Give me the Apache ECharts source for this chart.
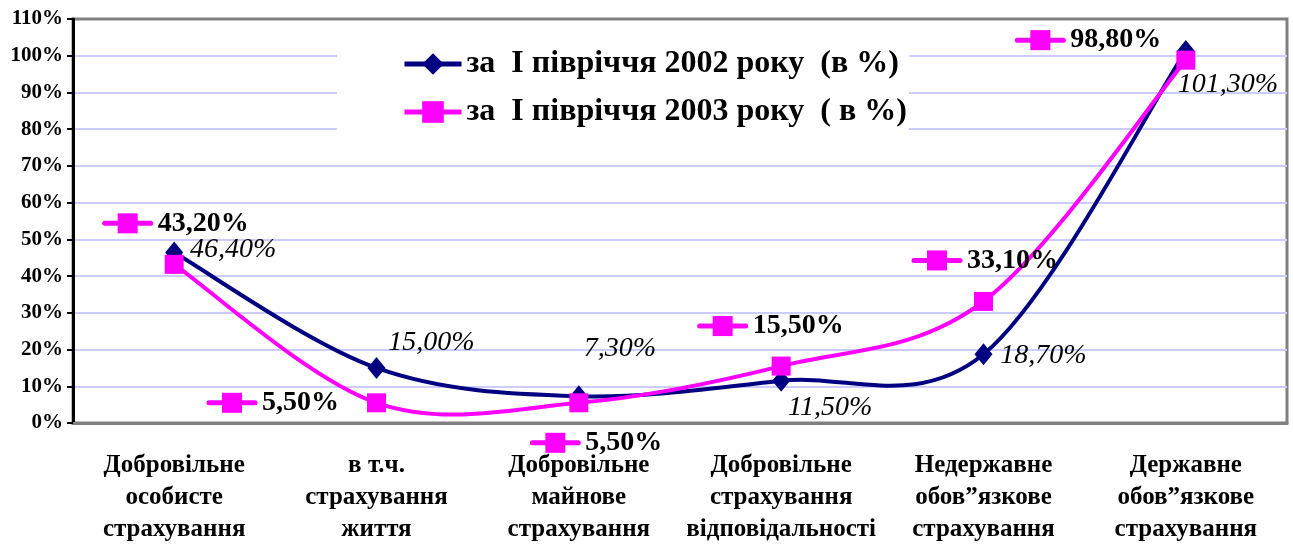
<!DOCTYPE html>
<html>
<head>
<meta charset="utf-8">
<script src="https://cdn.jsdelivr.net/npm/echarts@6/dist/echarts.min.js"></script>
<style>
html,body{margin:0;padding:0;background:#fff;}
#chart{width:1293px;height:546px;}
</style>
</head>
<body>
<div id="chart"></div>
<script>
const categories = [
  'Добровільне\nособисте\nстрахування',
  'в т.ч.\nстрахування\nжиття',
  'Добровільне\nмайнове\nстрахування',
  'Добровільне\nстрахування\nвідповідальності',
  'Недержавне\nобов”язкове\nстрахування',
  'Державне\nобов”язкове\nстрахування'
];
const seriesNames = ['за  І півріччя 2002 року  (в %)', 'за  І півріччя 2003 року  ( в %)'];
const values2002 = [46.4, 15.0, 7.3, 11.5, 18.7, 101.3];
const values2003 = [43.2, 5.5, 5.5, 15.5, 33.1, 98.8];
const yTicks = {min: 0, max: 110, interval: 10};

// label offsets (layout, px)
const offsets2002 = [[59,-3],[55,-25],[41,-48],[49,27],[60,1],[42,34]];
const offsets2003 = [[1,-41],[-104,0],[17,40],[-11,-40],[1,-41],[-98,-20]];

const NAVY = '#000080', MAG = '#FF00FF';
const FONT = '"Liberation Serif", "Times New Roman", serif';
const keySvg = 'data:image/svg+xml;utf8,' + encodeURIComponent(
  '<svg xmlns="http://www.w3.org/2000/svg" width="52" height="22">' +
  '<line x1="3" y1="11" x2="49" y2="11" stroke="#FF00FF" stroke-width="5" stroke-linecap="round"/>' +
  '<rect x="16" y="1" width="20" height="20" fill="#FF00FF"/></svg>');

function fmt(v){ return v.toFixed(2).replace('.', ',') + '%'; }

const data2002 = values2002.map((v,i)=>({
  value: v,
  label: {show: true, position: 'inside', offset: offsets2002[i],
    formatter: p => fmt(p.value), color: '#000', fontFamily: FONT,
    fontStyle: 'italic', fontSize: 28}
}));
const data2003 = values2003.map((v,i)=>({
  value: v,
  label: {show: true, position: 'inside', offset: offsets2003[i],
    formatter: p => '{k|}{t|' + fmt(p.value) + '}',
    rich: {
      k: {width: 52, height: 22, backgroundColor: {image: keySvg}},
      t: {color: '#000', fontFamily: FONT, fontWeight: 'bold', fontSize: 28, padding: [0,0,0,4]}
    }}
}));

// Excel-style smoothed curve (Catmull-Rom, tension 1/6) drawn through the axes' scales
function smoothCurve(values, color, z) {
  return {
    type: 'custom', z: z, silent: true,
    data: values.map((v,i)=>[i, v]),
    encode: {x: 0, y: 1},
    renderItem: function(params, api) {
      const i = params.dataIndex, n = values.length;
      if (i >= n - 1) return {type: 'group', children: []};
      const P = k => { const kk = Math.max(0, Math.min(n-1, k)); return api.coord([kk, values[kk]]); };
      const p0 = P(i-1), p1 = P(i), p2 = P(i+1), p3 = P(i+2);
      return {
        type: 'bezierCurve',
        shape: {
          x1: p1[0], y1: p1[1], x2: p2[0], y2: p2[1],
          cpx1: p1[0] + (p2[0]-p0[0])/6, cpy1: p1[1] + (p2[1]-p0[1])/6,
          cpx2: p2[0] - (p3[0]-p1[0])/6, cpy2: p2[1] - (p3[1]-p1[1])/6
        },
        style: {stroke: color, lineWidth: 4, fill: null, lineCap: 'round'}
      };
    }
  };
}

const gridColors = [];
for (let k = 0; k <= 11; k++) gridColors.push(k === 11 ? '#808080' : '#CCCCFF');

const chart = echarts.init(document.getElementById('chart'));
chart.setOption({
  animation: false,
  backgroundColor: '#fff',
  grid: {left: 73, right: 6, top: 19, bottom: 121, show: true, borderColor: '#808080', borderWidth: 3, backgroundColor: 'transparent'},
  legend: {
    orient: 'vertical', left: 337, top: 36,
    backgroundColor: '#fff',
    padding: [12, 2, 10, 65],
    itemGap: 16, itemWidth: 57, itemHeight: 27,
    textStyle: {fontFamily: FONT, fontWeight: 'bold', fontSize: 32, color: '#000'},
    data: [
      {name: seriesNames[0], lineStyle: {opacity: 1, width: 5}},
      {name: seriesNames[1], lineStyle: {opacity: 1, width: 5}}
    ]
  },
  xAxis: {
    type: 'category', data: categories, boundaryGap: true,
    axisLine: {lineStyle: {color: '#808080', width: 3}},
    axisTick: {show: false},
    axisLabel: {color: '#000', fontFamily: FONT, fontWeight: 'bold', fontSize: 25, lineHeight: 32, margin: 27, interval: 0}
  },
  yAxis: {
    type: 'value', min: yTicks.min, max: yTicks.max, interval: yTicks.interval,
    axisLine: {show: true, lineStyle: {color: '#000', width: 3}},
    axisTick: {show: true, length: 6, lineStyle: {color: '#000', width: 2}},
    axisLabel: {color: '#000', fontFamily: FONT, fontWeight: 'bold', fontSize: 21, margin: 10, formatter: '{value}%'},
    splitLine: {lineStyle: {color: gridColors, width: 2}}
  },
  series: [
    smoothCurve(values2002, NAVY, 1),
    smoothCurve(values2003, MAG, 2),
    {name: seriesNames[0], type: 'line', data: data2002,
     symbol: 'diamond', symbolSize: [18, 22],
     itemStyle: {color: NAVY}, lineStyle: {color: NAVY, width: 4, opacity: 0}, z: 3},
    {name: seriesNames[1], type: 'line', data: data2003,
     symbol: 'rect', symbolSize: 19,
     itemStyle: {color: MAG}, lineStyle: {color: MAG, width: 4, opacity: 0}, z: 4}
  ]
});
</script>
</body>
</html>
